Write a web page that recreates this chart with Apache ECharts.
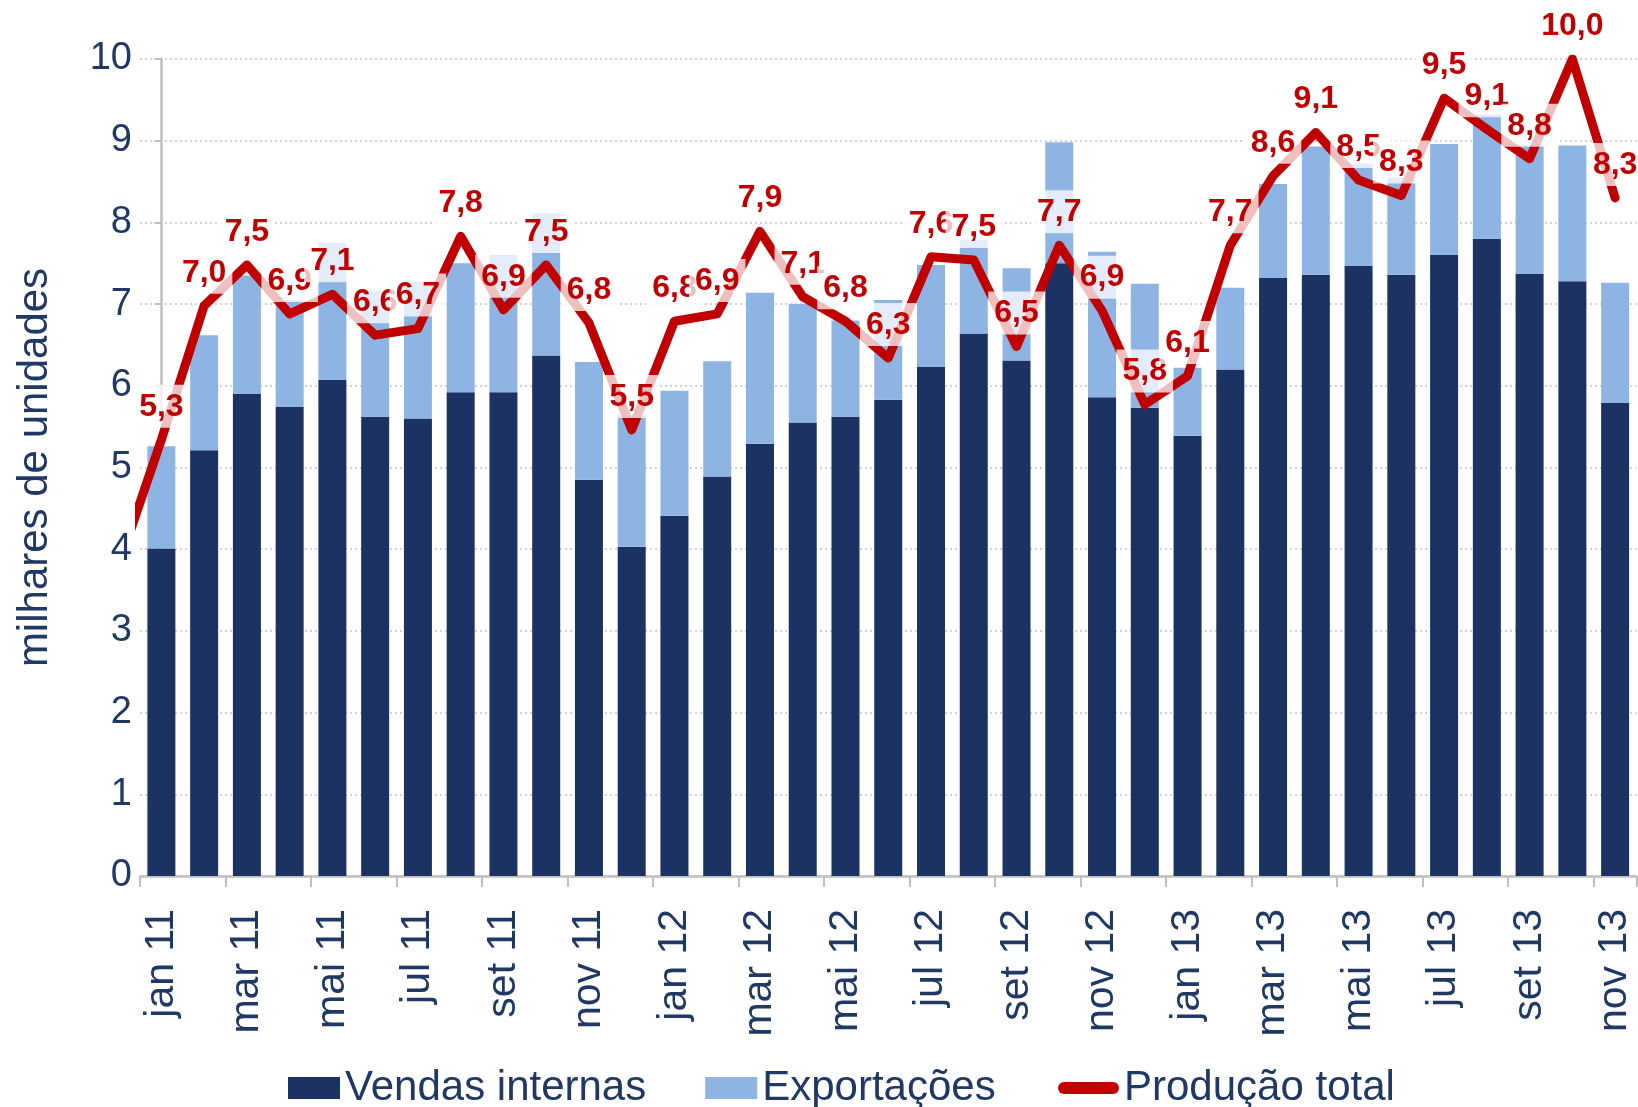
<!DOCTYPE html>
<html>
<head>
<meta charset="utf-8">
<script src="https://cdn.jsdelivr.net/npm/echarts@6/dist/echarts.min.js"></script>
<style>
html,body{margin:0;padding:0;background:#fff;}
#chart{width:1638px;height:1107px;}
</style>
</head>
<body>
<div id="chart"></div>
<script>
const months = ['jan 11','fev 11','mar 11','abr 11','mai 11','jun 11','jul 11','ago 11','set 11','out 11','nov 11','dez 11',
  'jan 12','fev 12','mar 12','abr 12','mai 12','jun 12','jul 12','ago 12','set 12','out 12','nov 12','dez 12',
  'jan 13','fev 13','mar 13','abr 13','mai 13','jun 13','jul 13','ago 13','set 13','out 13','nov 13'];

const vendasInternas = [4.01,5.21,5.90,5.74,6.07,5.62,5.60,5.92,5.92,6.37,4.85,4.03,
  4.41,4.89,5.29,5.55,5.62,5.83,6.23,6.64,6.31,7.50,5.86,5.73,
  5.39,6.20,7.32,7.36,7.47,7.36,7.60,7.80,7.37,7.28,5.79];

const exportacoes = [1.25,1.41,1.45,1.31,1.68,1.54,1.67,1.58,1.68,1.74,1.44,1.62,
  1.53,1.41,1.85,1.45,1.18,1.22,1.25,1.14,1.13,1.48,1.78,1.52,
  0.83,1.00,1.15,1.57,1.25,1.19,1.36,1.52,1.58,1.66,1.47];

const producaoTotal = [5.34,6.98,7.48,6.88,7.12,6.62,6.70,7.83,6.93,7.48,6.77,5.46,
  6.79,6.88,7.89,7.09,6.79,6.34,7.58,7.54,6.48,7.72,6.92,5.77,
  6.12,7.72,8.57,9.10,8.52,8.33,9.52,9.14,8.78,10.00,8.30];

// dez 10: only the clipped segment entering at the left edge is visible
const producaoAnterior = 3.8;

const yMin = 0, yMax = 10, yStep = 1;

const navy = '#1F3864';
const font = 'Liberation Sans, Arial, sans-serif';

const lineData = [{value: [-1, producaoAnterior], label: {show: false}}]
  .concat(producaoTotal.map((v, i) => ({value: [i, v]})));

const legendText = {fontSize: 42, color: navy, fontFamily: font, lineHeight: 44};

const chart = echarts.init(document.getElementById('chart'), null, {renderer: 'canvas'});
chart.setOption({
  animation: false,
  backgroundColor: '#ffffff',
  grid: {left: 140, right: 1.5, top: 59, bottom: 231, containLabel: false},
  legend: [{
    left: 283, top: 1061,
    itemWidth: 52, itemHeight: 22, itemGap: 59,
    textStyle: legendText,
    data: [
      {name: 'Vendas internas', icon: 'rect'},
      {name: 'Exportações', icon: 'rect'}
    ]
  }, {
    left: 1053, top: 1061,
    itemWidth: 61, itemHeight: 22, itemGap: 4,
    textStyle: legendText,
    data: [
      {name: 'Produção total', icon: 'path://M6,0 L55,0 A6,6 0 0 1 55,12 L6,12 A6,6 0 0 1 6,0 Z'}
    ]
  }],
  xAxis: [{
    type: 'category',
    data: months,
    boundaryGap: true,
    axisLine: {lineStyle: {color: '#BFBFBF', width: 2.5}},
    axisTick: {show: true, interval: 1, length: 11, lineStyle: {color: '#BFBFBF', width: 2}},
    axisLabel: {interval: 1, rotate: 90, margin: 33, fontSize: 41, color: navy, fontFamily: font}
  }, {
    type: 'value', min: -0.5, max: 34.5, show: false
  }],
  yAxis: {
    type: 'value', min: yMin, max: yMax, interval: yStep,
    name: 'milhares de unidades', nameLocation: 'middle', nameGap: 84,
    nameTextStyle: {fontSize: 42, color: navy, fontFamily: font},
    axisLine: {show: true, lineStyle: {color: '#BFBFBF', width: 2.5}},
    axisTick: {show: true, length: 7, lineStyle: {color: '#BFBFBF', width: 2}},
    axisLabel: {fontSize: 38, margin: 8, color: navy, fontFamily: font},
    splitLine: {show: true, lineStyle: {type: [2, 3], color: '#C4C4C4', width: 1.5}}
  },
  series: [{
    name: 'Vendas internas', type: 'bar', stack: 'total', barWidth: 28,
    itemStyle: {color: '#1B3263'},
    data: vendasInternas
  }, {
    name: 'Exportações', type: 'bar', stack: 'total', barWidth: 28,
    itemStyle: {color: '#8EB4E3'},
    data: exportacoes
  }, {
    name: 'Produção total', type: 'line', xAxisIndex: 1,
    symbol: 'circle', symbolSize: 2, showSymbol: true,
    itemStyle: {color: '#C00000'},
    lineStyle: {color: '#C00000', width: 9, cap: 'round', join: 'round'},
    clip: true,
    label: {
      show: true, position: 'top', distance: 11,
      fontSize: 32, fontWeight: 'bold', color: '#C00000', fontFamily: font,
      backgroundColor: 'rgba(255,255,255,0.75)', padding: [6, 6, 5, 6],
      formatter: p => p.value[1].toFixed(1).replace('.', ',')
    },
    data: lineData
  }]
});
</script>
</body>
</html>
